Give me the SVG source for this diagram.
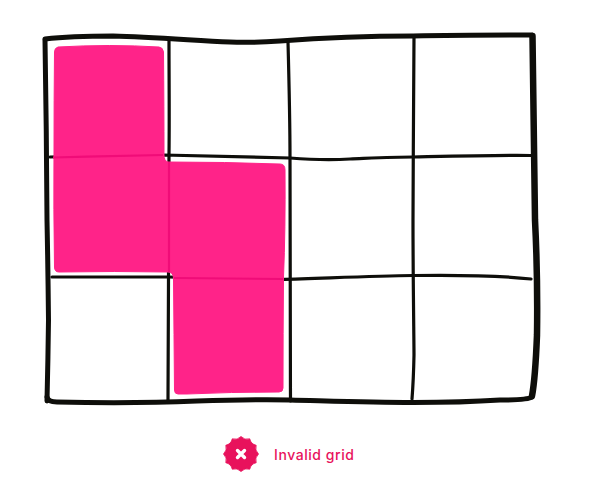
<svg xmlns="http://www.w3.org/2000/svg" width="595" height="482" viewBox="0 0 595 482">
<style>
.g{fill:none;stroke:#0e0e0a;stroke-linecap:round;stroke-linejoin:round}
.t{stroke-width:3.200}
.o{fill:#ff2389;stroke:#ff2389;stroke-width:1;stroke-linejoin:round}
.d{fill:none;stroke:#f00c78;stroke-width:2.200}
text{font-family:"Inter","Liberation Sans",sans-serif;font-size:14px;font-weight:500;fill:#e8125c}
</style>
<rect width="595" height="482" fill="#fff"/>
<g id="grid-lines">
<path class="g t" d="M169 40C169 80 169.500 120 169 155S168 260 168 401"/>
<path class="g t" d="M288 42C289 80 290 120 290 158S290 300 290.500 401"/>
<path class="g t" d="M414 37C414 90 413 160 413 220S414 340 414 355Q413.500 380 412 399"/>
<path class="g t" d="M50 157C90 156 130 155 163 155C210 156 255 157 290 158C315 160 335 160 350 159C375 158 395 157 413 157C460 156 500 155 531 155.500"/>
<path class="g t" d="M52 277L168 277L280 279.500C330 278 375 276 413 275.500C450 275 495 275 531 279"/>
</g>
<g id="pink-cells">
<path class="o" d="M58 47Q110 44 159 47Q163 47.500 163.500 52Q164 110 164 155Q164 161 168 162Q225 162 280 164Q285 164 285 170Q285.500 230 283.500 277Q283 335 283 388Q283 392 279 392Q230 392 187 394L178 394Q174.500 394 174.500 390Q174 335 173.500 278Q173 272 168 272Q115 271 59 272Q54.500 272 54.500 267Q53.500 210 54 150Q54 100 54.500 52Q54.500 48 58 47Z"/>
<path class="d" d="M53 157.500C90 156.500 130 155.500 163 155"/>
<path class="d" d="M169 162V272"/>
<path class="d" d="M174 278L283 279"/>
</g>
<g id="border">
<path class="g" stroke-width="5" d="M47 401Q48 360 48.500 320Q48 270 47 220Q46.500 130 45 40"/>
<path class="g" stroke-width="5" d="M45 39C70 36 90 36 113 36C150 37 190 40 230 42C250 43 265 42 280 41C320 38 370 36 413 36C460 35 500 35 532 35"/>
<path class="g" stroke-width="6.500" d="M532.500 36Q534 130 535 220C537 260 537.500 300 537 335C536 360 535 380 532 396"/>
<path class="g" stroke-width="5" d="M532 397Q528 400 500 400C470 402 440 402.500 413 402.500C370 402.500 330 401 290 400C260 399.500 230 400 197 401C150 403 100 403 57 402Q48 402 47 397"/>
</g>
<g id="status">
<path fill="#e8125c" stroke="#e8125c" stroke-width="0.800" stroke-linejoin="round" d="M258.500 454Q254.500 457.600 256.200 462.750Q250.900 463.900 249.750 469.200Q244.600 467.500 241 471.500Q237.400 467.500 232.250 469.200Q231.100 463.900 225.800 462.750Q227.500 457.600 223.500 454Q227.500 450.400 225.800 445.250Q231.100 444.100 232.250 438.800Q237.400 440.500 241 436.500Q244.600 440.500 249.750 438.800Q250.900 444.100 256.200 445.250Q254.500 450.400 258.500 454Z"/>
<path fill="none" stroke="#fff" stroke-width="3.400" stroke-linecap="round" d="M237.500 450.500L244.500 457.500M244.500 450.500L237.500 457.500"/>
<text x="274" y="460" textLength="80" lengthAdjust="spacing">Invalid grid</text>
</g>
</svg>
